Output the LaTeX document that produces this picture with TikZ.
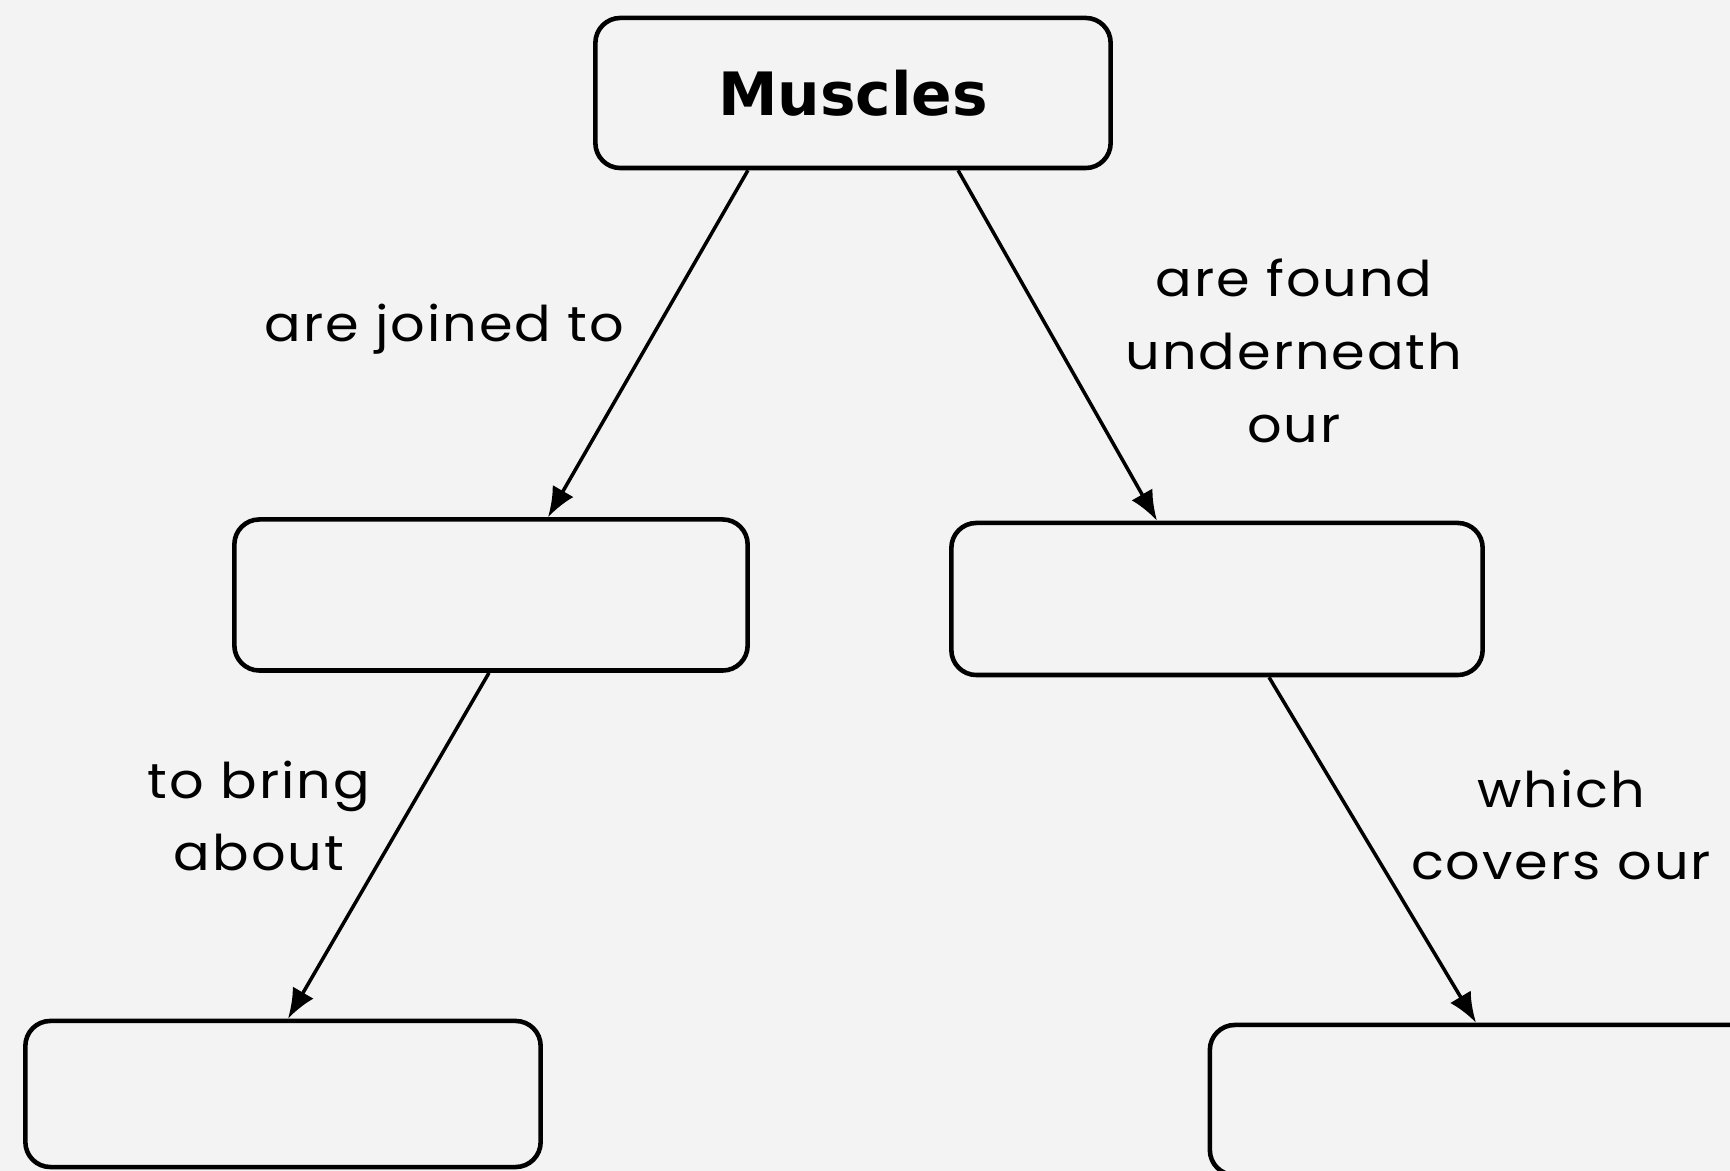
\documentclass[tikz,border=0pt]{standalone}
\usepackage{fontspec}
\setmainfont{Poppins}[FakeStretch=1.1, LetterSpace=4]
\newfontfamily\titlefont{DejaVu Sans}
\usepackage{xcolor}
\usetikzlibrary{arrows.meta}
\definecolor{paper}{HTML}{F3F3F3}

\begin{document}
\begin{tikzpicture}[
    x=0.01cm, y=-0.01cm,
    font=\fontsize{14}{20.7}\selectfont,
    box/.style={draw, line width=1.3pt, rounded corners=0.25cm, minimum width=5.15cm, minimum height=1.5cm},
    title/.style={font=\titlefont\bfseries\fontsize{17}{20}\selectfont},
    link/.style={align=center, inner sep=0pt},
    arr/.style={-{Latex[length=3mm, width=2.4mm]}, line width=1pt}
]
\fill[paper] (0,0) rectangle (1730,1171);
\useasboundingbox (0,0) rectangle (1730,1171);

\node[box, title] (muscles) at (853,93) {Muscles};
\node[box, minimum width=5.13cm, minimum height=1.51cm] (bones) at (491,595) {};
\node[box, minimum width=5.31cm, minimum height=1.52cm] (skin) at (1217,599) {};
\node[box, minimum height=1.46cm] (movement) at (283,1094) {};
\node[box, minimum width=5.5cm] (body) at (1485,1100) {};

\node[link, anchor=east] (joinlbl) at (625,329) {are joined to};
\node[link] (foundlbl) at (1294,351) {are found\\underneath\\our};
\node[link] (bringlbl) at (259,816) {to bring\\about};
\node[link] (coverlbl) at (1561,825) {which\\covers our};

\draw[arr] ([xshift=-1.05cm]muscles.south) -- ([xshift=0.57cm]bones.north);
\draw[arr] ([xshift=1.05cm]muscles.south) -- ([xshift=-0.6cm]skin.north);
\draw[arr] ([xshift=-0.02cm]bones.south) -- ([xshift=0.05cm]movement.north);
\draw[arr] ([xshift=0.52cm]skin.south) -- ([xshift=-0.09cm]body.north);
\end{tikzpicture}
\end{document}
